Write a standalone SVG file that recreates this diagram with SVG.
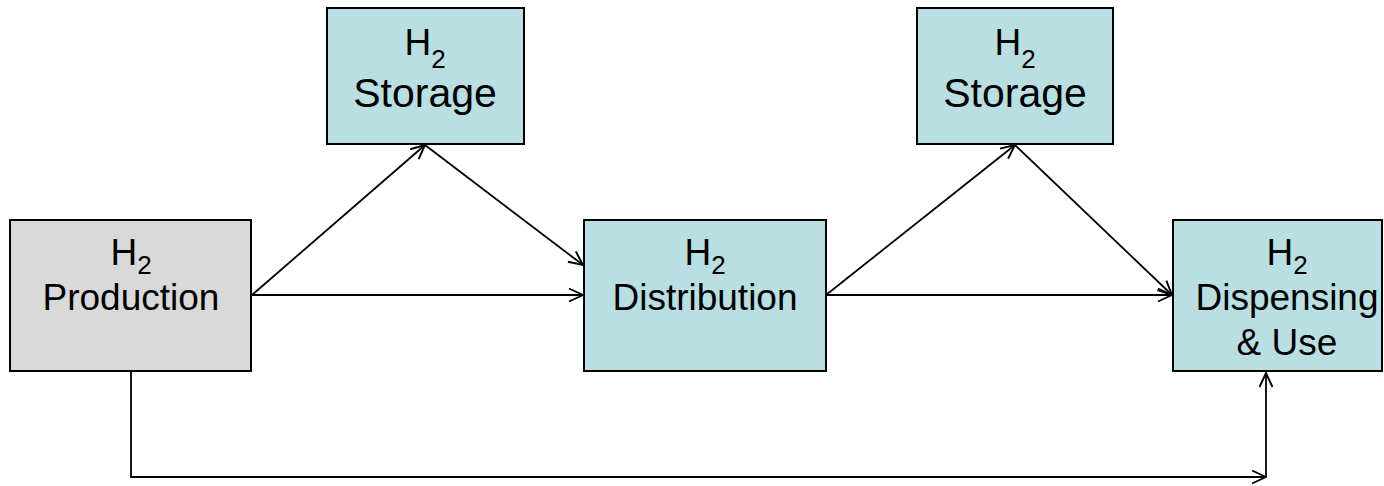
<svg xmlns="http://www.w3.org/2000/svg" width="1384" height="486" viewBox="0 0 1384 486">
  <style>
    .box { stroke: #000; stroke-width: 2; }
    .prod { fill: #D9D9D9; }
    .h2 { fill: #B9DFE3; }
    .lbl { font-family: "Liberation Sans", Arial, sans-serif; font-size: 37px; fill: #000; text-anchor: middle; }
    .big { font-size: 41px; }
    .sub { font-size: 26px; }
    .conn line, .conn polyline { stroke: #000; stroke-width: 1.8; fill: none; marker-end: url(#arrow); }
  </style>
  <defs>
    <marker id="arrow" viewBox="0 0 16 16" refX="15" refY="8" markerWidth="16" markerHeight="16" markerUnits="userSpaceOnUse" orient="auto">
      <path d="M1,1.5 L15,8 L1,14.5" fill="none" stroke="#000" stroke-width="1.9"/>
    </marker>
  </defs>
  <rect width="1384" height="486" fill="#fff"/>

  <g class="conn" id="connectors">
    <line x1="252" y1="295" x2="425" y2="145"/>
    <line x1="425" y1="145" x2="583" y2="265"/>
    <line x1="252" y1="295" x2="583" y2="295"/>
    <line x1="826" y1="295" x2="1015" y2="145"/>
    <line x1="1015" y1="145" x2="1172" y2="295"/>
    <line x1="826" y1="295" x2="1172" y2="295"/>
    <polyline points="131,371 131,477 1266,477"/>
    <line x1="1266" y1="477" x2="1266" y2="373"/>
  </g>

  <g id="production">
    <rect class="box prod" x="10" y="220" width="241" height="151"/>
    <text class="lbl" x="131" y="265">H<tspan class="sub" dy="9">2</tspan></text>
    <text class="lbl" x="131" y="310">Production</text>
  </g>

  <g id="storage1">
    <rect class="box h2" x="327" y="8" width="197" height="136"/>
    <text class="lbl" x="425" y="55">H<tspan class="sub" dy="13">2</tspan></text>
    <text class="lbl big" x="425" y="107">Storage</text>
  </g>

  <g id="distribution">
    <rect class="box h2" x="584" y="220" width="242" height="151"/>
    <text class="lbl" x="705" y="265">H<tspan class="sub" dy="9">2</tspan></text>
    <text class="lbl" x="705" y="310">Distribution</text>
  </g>

  <g id="storage2">
    <rect class="box h2" x="917" y="8" width="196" height="136"/>
    <text class="lbl" x="1015" y="55">H<tspan class="sub" dy="13">2</tspan></text>
    <text class="lbl big" x="1015" y="107">Storage</text>
  </g>

  <g id="dispensing">
    <rect class="box h2" x="1173" y="220" width="209" height="151"/>
    <text class="lbl" x="1287" y="265">H<tspan class="sub" dy="9">2</tspan></text>
    <text class="lbl" x="1287" y="310">Dispensing</text>
    <text class="lbl" x="1287" y="355">&amp; Use</text>
  </g>
</svg>
